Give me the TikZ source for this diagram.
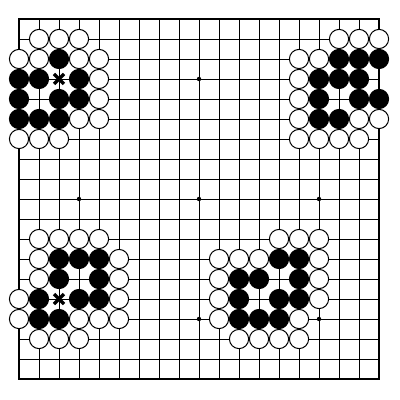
\documentclass[tikz,border=0pt]{standalone}
\begin{document}
\begin{tikzpicture}[x=0.5cm,y=-0.5cm,
  gridline/.style={line width=0.7pt},
  border/.style={line width=1.8pt},
  wstone/.style={draw=black,fill=white,line width=0.7pt},
  bstone/.style={draw=black,fill=black,line width=0.7pt},
  xmark/.style={line width=2.4pt}]
\useasboundingbox (-0.95,-0.95) rectangle (19.05,19.05);
\fill[white] (-0.95,-0.95) rectangle (19.05,19.05);
\foreach \i in {1,...,17} {
  \draw[gridline] (\i,0) -- (\i,18);
  \draw[gridline] (0,\i) -- (18,\i);
}
\draw[border] (0,0) rectangle (18,18);
\foreach \c/\r in {3/3,9/3,15/3,3/9,9/9,15/9,3/15,9/15,15/15}
  \fill (\c,\r) circle (0.11);
% white stones (col/row)
\foreach \c/\r in {1/1,2/1,3/1, 0/2,1/2,3/2,4/2, 4/3, 4/4, 3/5,4/5, 0/6,1/6,2/6,
  16/1,17/1,18/1, 14/2,15/2, 14/3, 14/4, 14/5,17/5,18/5, 14/6,15/6,16/6,17/6,
  1/11,2/11,3/11,4/11, 1/12,5/12, 1/13,5/13, 0/14,5/14, 0/15,3/15,4/15,5/15, 1/16,2/16,3/16,
  13/11,14/11,15/11, 10/12,11/12,12/12,15/12, 10/13,15/13, 10/14,15/14, 10/15,14/15, 11/16,12/16,13/16,14/16}
  \draw[wstone] (\c,\r) circle (0.48);
% black stones
\foreach \c/\r in {2/2, 0/3,1/3,3/3, 0/4,2/4,3/4, 0/5,1/5,2/5,
  16/2,17/2,18/2, 15/3,16/3,17/3, 15/4,17/4,18/4, 15/5,16/5,
  2/12,3/12,4/12, 2/13,4/13, 1/14,3/14,4/14, 1/15,2/15,
  13/12,14/12, 11/13,12/13,14/13, 11/14,13/14,14/14, 11/15,12/15,13/15}
  \draw[bstone] (\c,\r) circle (0.48);
% marks
\foreach \c/\r in {2/3, 2/14}
  \draw[xmark] (\c-0.25,\r-0.25) -- (\c+0.25,\r+0.25) (\c-0.25,\r+0.25) -- (\c+0.25,\r-0.25);
\end{tikzpicture}
\end{document}
